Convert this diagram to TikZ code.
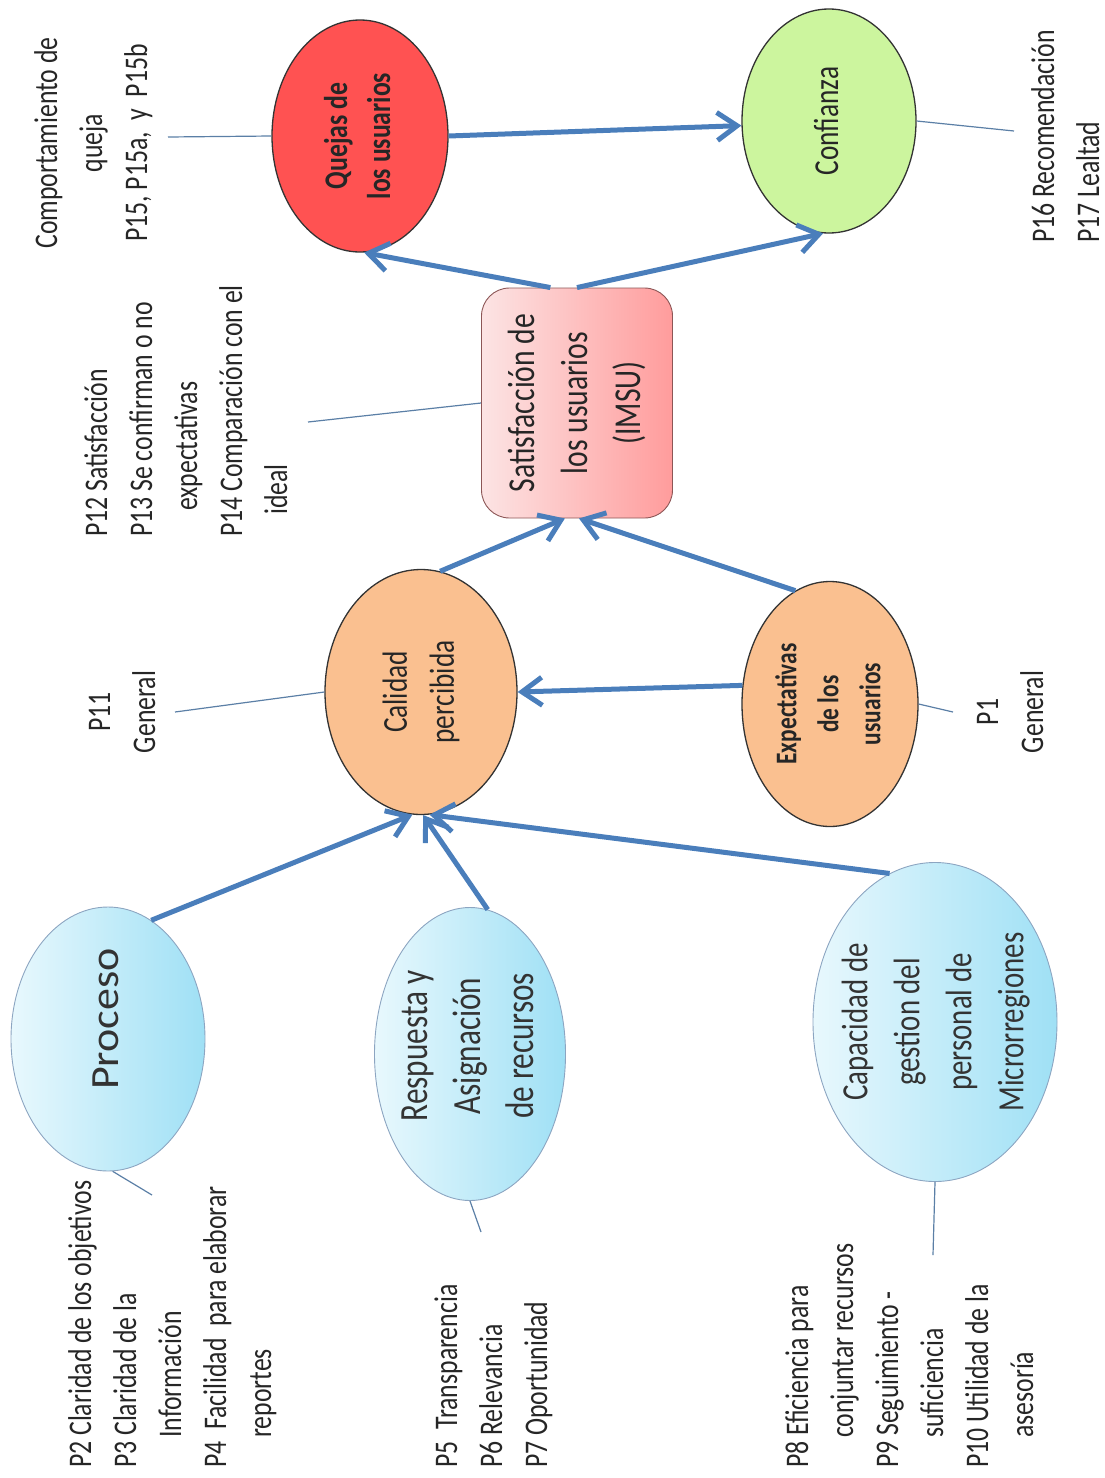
\documentclass[tikz,border=0pt]{standalone}
\usepackage{fontspec}
\setmainfont{Carlito}[FakeStretch=0.78]
\newfontfamily\procfont{Carlito}[FakeStretch=1.1]
\usetikzlibrary{arrows.meta,shapes.geometric}
\definecolor{arrowblue}{HTML}{4A7EBB}
\definecolor{thinblue}{HTML}{5B7FA6}
\definecolor{quejared}{HTML}{FF5252}
\definecolor{confgreen}{HTML}{CCF59E}
\definecolor{calorange}{HTML}{FAC090}
\definecolor{cyanL}{HTML}{E8F8FD}
\definecolor{cyanR}{HTML}{9FE0F5}
\definecolor{pinkL}{HTML}{FCE4E4}
\definecolor{pinkR}{HTML}{FF9C9C}
\newcommand{\vtxt}[1]{\makebox[0pt]{\smash{\raisebox{-0.5\height}{\rotatebox{90}{\begin{tabular}{@{}c@{}}#1\end{tabular}}}}}}

\begin{document}
\begin{tikzpicture}[x=1pt,y=-1pt,
  oval/.style={ellipse,draw=black!80,line width=1.3pt,inner sep=0pt,text=black!85},
  bluoval/.style={ellipse,draw=thinblue!70,line width=0.9pt,inner sep=0pt,
    left color=cyanL,right color=cyanR,text=black!80},
  flow/.style={draw=arrowblue,line width=5pt,-{Straight Barb[length=20pt,width=28pt]}},
  tie/.style={draw=thinblue,line width=1.2pt},
  lbl/.style={inner sep=0pt,rotate=90,text=black!85,font=\fontsize{33}{45}\selectfont}]
  \useasboundingbox (0,0) rectangle (1105,1478);

  \node[oval,fill=quejared,minimum width=176,minimum height=232,
    font=\fontsize{33}{43}\selectfont\bfseries] (quejas) at (360,136) {\vtxt{Quejas de\\los usuarios}};
  \node[oval,fill=confgreen,minimum width=174,minimum height=224,
    font=\fontsize{35}{45}\selectfont] (confianza) at (829,121) {\vtxt{Confianza}};
  \node[draw=pinkR!55!black,line width=0.9pt,rounded corners=28pt,left color=pinkL,right color=pinkR,
    minimum width=191,minimum height=230,inner sep=0pt,text=black!85,
    font=\fontsize{38}{53}\selectfont] (satis) at (577,403) {\vtxt{Satisfacción de\\los usuarios\\(IMSU)}};
  \node[oval,fill=calorange,minimum width=192,minimum height=245,
    font=\fontsize{35}{47}\selectfont] (calidad) at (421,692) {\vtxt{Calidad\\percibida}};
  \node[oval,fill=calorange,minimum width=176,minimum height=245,
    font=\fontsize{30}{42}\selectfont\bfseries] (expect) at (830,704) {\vtxt{Expectativas\\de los\\usuarios}};
  \node[bluoval,minimum width=194,minimum height=264,
    font=\procfont\fontsize{40}{50}\selectfont] (proceso) at (108,1039) {\smash{\raisebox{20pt}{\vtxt{Proceso}}}};
  \node[bluoval,minimum width=191,minimum height=293,
    font=\fontsize{40}{53}\selectfont] (respuesta) at (470,1054) {\smash{\raisebox{8pt}{\vtxt{Respuesta y\\Asignación\\de recursos}}}};
  \node[bluoval,minimum width=244,minimum height=319,
    font=\fontsize{37}{52}\selectfont] (capacidad) at (935,1022) {\vtxt{Capacidad de\\gestion del\\personal de\\Microrregiones}};

  \node[lbl,anchor=base] (labqueja) at (57,143) {\begin{tabular}[t]{@{}c@{}}Comportamiento de\\queja\\P15, P15a,\ \ y\ \ P15b\end{tabular}};
  \node[lbl,anchor=base west] (labsatis) at (107,537) {\begin{tabular}[t]{@{}l@{}}P12 Satisfacción\\P13 Se confirman o no\\\hspace*{26pt}expectativas\\P14 Comparación con el\\\hspace*{22pt}ideal\end{tabular}};
  \node[lbl,anchor=base] (labcal) at (110,712) {\begin{tabular}[t]{@{}c@{}}P11\\General\end{tabular}};
  \node[lbl,anchor=base] (labexp) at (998,712) {\begin{tabular}[t]{@{}c@{}}P1\\General\end{tabular}};
  \node[lbl,anchor=base west] (labconf) at (1054,243) {\begin{tabular}[t]{@{}l@{}}P16 Recomendación\\P17 Lealtad\end{tabular}};
  \node[lbl,anchor=base west] (labproc) at (91,1468) {\begin{tabular}[t]{@{}l@{}}P2 Claridad de los objetivos\\P3 Claridad de la\\\hspace*{30pt}Información\\P4\ \ Facilidad\ \ para elaborar\\\hspace*{30pt}reportes\end{tabular}};
  \node[lbl,anchor=base west] (labresp) at (457,1468) {\begin{tabular}[t]{@{}l@{}}P5\ \ Transparencia\\P6 Relevancia\\P7 Oportunidad\end{tabular}};
  \node[lbl,anchor=base west] (labcap) at (808,1468) {\begin{tabular}[t]{@{}l@{}}P8 Eficiencia para\\\hspace*{30pt}conjuntar recursos\\P9 Seguimiento -\\\hspace*{30pt}suficiencia\\P10 Utilidad de la\\\hspace*{30pt}asesoría\end{tabular}};

  \coordinate (endqueja) at (168,137);
  \coordinate (endconf) at (1014,131);
  \coordinate (endsatis) at (308,422);
  \coordinate (endcal) at (175,712);
  \coordinate (endexp) at (953,712);
  \coordinate (endproc) at (152,1195);
  \coordinate (endresp) at (481,1232);
  \coordinate (endcap) at (933,1255);

  \draw[tie] (quejas.west) -- (endqueja);
  \draw[tie] (confianza.east) -- (endconf);
  \draw[tie] (satis.west) -- (endsatis);
  \draw[tie] (calidad.west) -- (endcal);
  \draw[tie] (expect.east) -- (endexp);
  \draw[tie] (proceso.-88) -- (endproc);
  \draw[tie] (respuesta.south) -- (endresp);
  \draw[tie] (capacidad.south) -- (endcap);

  \draw[flow] (quejas.east) -- (confianza.183);
  \draw[flow] (satis.103) -- (quejas.-88);
  \draw[flow] (satis.north) -- (confianza.-93);
  \draw[flow] (calidad.81) -- (satis.-96);
  \draw[flow] (expect.107) -- (satis.-89);
  \draw[flow] (expect.168) -- (calidad.east);
  \draw[flow] (proceso.70) -- (calidad.-94);
  \draw[flow] (respuesta.83) -- (calidad.-89);
  \draw[flow] (capacidad.107) -- (calidad.-86);
\end{tikzpicture}
\end{document}
